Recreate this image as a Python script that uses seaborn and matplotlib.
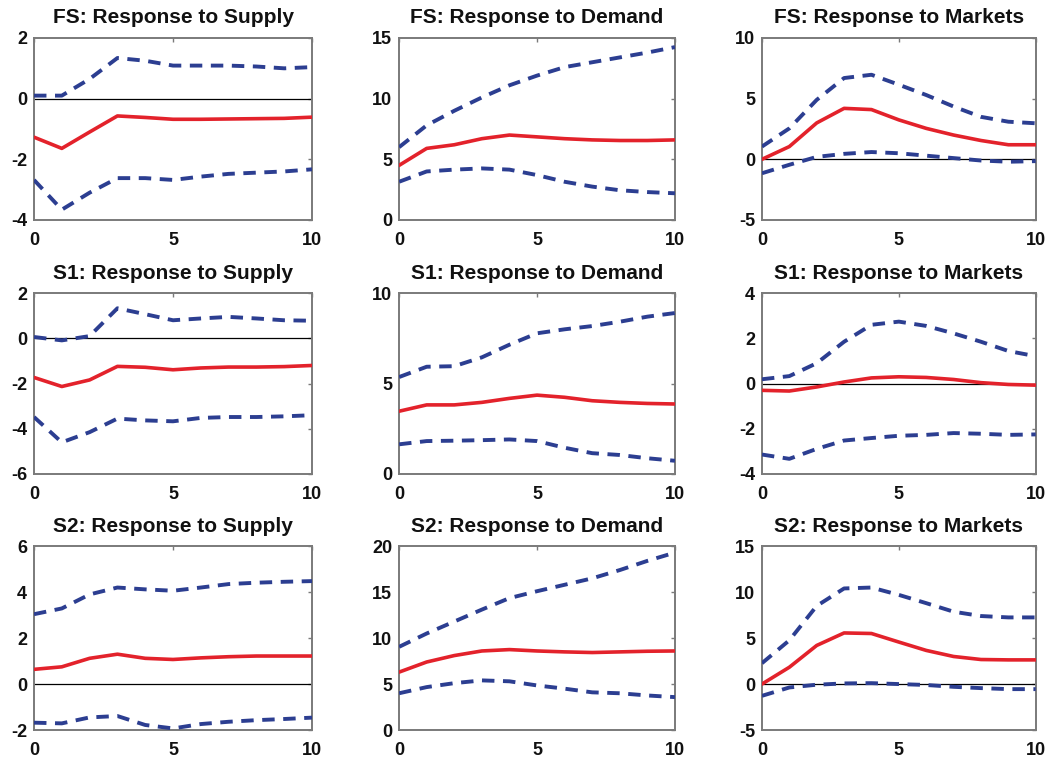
import numpy as np
import pandas as pd
import matplotlib
matplotlib.use("Agg")
import matplotlib.pyplot as plt
import seaborn as sns

sns.set_theme(style="white")
plt.rcParams["font.family"] = ["Liberation Sans", "DejaVu Sans"]
plt.rcParams["font.weight"] = "bold"
plt.rcParams["axes.unicode_minus"] = False

horizon = list(range(11))

sectors = ["FS", "S1", "S2"]
shocks = ["Supply", "Demand", "Markets"]

# Median impulse responses and error bands, one list per (sector, shock)
fs_supply_mid = [-1.27, -1.64, -1.10, -0.57, -0.62, -0.68, -0.68, -0.67, -0.66, -0.65, -0.61]
fs_supply_hi = [0.10, 0.10, 0.65, 1.34, 1.25, 1.09, 1.09, 1.09, 1.06, 1.00, 1.04]
fs_supply_lo = [-2.68, -3.66, -3.10, -2.62, -2.62, -2.68, -2.57, -2.48, -2.44, -2.40, -2.33]

fs_demand_mid = [4.5, 5.9, 6.2, 6.7, 7.0, 6.85, 6.7, 6.6, 6.55, 6.55, 6.6]
fs_demand_hi = [6.0, 7.8, 9.0, 10.1, 11.1, 11.9, 12.6, 13.0, 13.4, 13.8, 14.25]
fs_demand_lo = [3.15, 4.0, 4.15, 4.25, 4.15, 3.7, 3.15, 2.75, 2.45, 2.3, 2.2]

fs_markets_mid = [0.0, 1.05, 3.0, 4.2, 4.1, 3.25, 2.55, 2.0, 1.55, 1.2, 1.2]
fs_markets_hi = [1.05, 2.55, 4.9, 6.7, 6.97, 6.15, 5.3, 4.35, 3.5, 3.1, 2.97]
fs_markets_lo = [-1.15, -0.45, 0.2, 0.45, 0.6, 0.5, 0.3, 0.1, -0.1, -0.2, -0.15]

s1_supply_mid = [-1.73, -2.13, -1.84, -1.24, -1.28, -1.39, -1.31, -1.27, -1.27, -1.25, -1.20]
s1_supply_hi = [0.06, -0.09, 0.10, 1.33, 1.07, 0.80, 0.88, 0.95, 0.88, 0.80, 0.78]
s1_supply_lo = [-3.48, -4.60, -4.15, -3.55, -3.63, -3.67, -3.52, -3.48, -3.48, -3.45, -3.40]

s1_demand_mid = [3.47, 3.82, 3.82, 3.96, 4.18, 4.36, 4.24, 4.05, 3.96, 3.90, 3.87]
s1_demand_hi = [5.36, 5.93, 5.96, 6.45, 7.15, 7.78, 8.0, 8.18, 8.42, 8.7, 8.9]
s1_demand_lo = [1.64, 1.82, 1.84, 1.87, 1.91, 1.82, 1.45, 1.15, 1.05, 0.87, 0.73]

s1_markets_mid = [-0.30, -0.33, -0.15, 0.07, 0.25, 0.30, 0.27, 0.18, 0.04, -0.04, -0.07]
s1_markets_hi = [0.19, 0.33, 0.90, 1.85, 2.60, 2.74, 2.55, 2.22, 1.85, 1.44, 1.21]
s1_markets_lo = [-3.14, -3.33, -2.89, -2.52, -2.41, -2.31, -2.27, -2.19, -2.22, -2.27, -2.25]

s2_supply_mid = [0.64, 0.75, 1.12, 1.30, 1.12, 1.07, 1.14, 1.19, 1.22, 1.22, 1.22]
s2_supply_hi = [3.04, 3.29, 3.90, 4.20, 4.12, 4.06, 4.20, 4.35, 4.41, 4.45, 4.48]
s2_supply_lo = [-1.68, -1.71, -1.45, -1.39, -1.78, -1.93, -1.74, -1.64, -1.57, -1.52, -1.46]

s2_demand_mid = [6.3, 7.4, 8.1, 8.6, 8.75, 8.6, 8.5, 8.43, 8.5, 8.57, 8.6]
s2_demand_hi = [9.05, 10.5, 11.8, 13.1, 14.35, 15.1, 15.8, 16.5, 17.4, 18.4, 19.3]
s2_demand_lo = [4.0, 4.67, 5.1, 5.4, 5.3, 4.85, 4.5, 4.1, 4.0, 3.76, 3.58]

s2_markets_mid = [0.0, 1.83, 4.2, 5.56, 5.5, 4.57, 3.66, 3.0, 2.67, 2.63, 2.63]
s2_markets_hi = [2.27, 4.76, 8.5, 10.4, 10.5, 9.7, 8.8, 7.87, 7.4, 7.25, 7.25]
s2_markets_lo = [-1.28, -0.37, -0.07, 0.07, 0.1, 0.0, -0.1, -0.3, -0.44, -0.55, -0.55]

y_limits = {
    ("FS", "Supply"): (-4, 2), ("FS", "Demand"): (0, 15), ("FS", "Markets"): (-5, 10),
    ("S1", "Supply"): (-6, 2), ("S1", "Demand"): (0, 10), ("S1", "Markets"): (-4, 4),
    ("S2", "Supply"): (-2, 6), ("S2", "Demand"): (0, 20), ("S2", "Markets"): (-5, 15),
}
y_steps = {
    ("FS", "Supply"): 2, ("FS", "Demand"): 5, ("FS", "Markets"): 5,
    ("S1", "Supply"): 2, ("S1", "Demand"): 5, ("S1", "Markets"): 2,
    ("S2", "Supply"): 2, ("S2", "Demand"): 5, ("S2", "Markets"): 5,
}

series = {
    ("FS", "Supply"): (fs_supply_mid, fs_supply_hi, fs_supply_lo),
    ("FS", "Demand"): (fs_demand_mid, fs_demand_hi, fs_demand_lo),
    ("FS", "Markets"): (fs_markets_mid, fs_markets_hi, fs_markets_lo),
    ("S1", "Supply"): (s1_supply_mid, s1_supply_hi, s1_supply_lo),
    ("S1", "Demand"): (s1_demand_mid, s1_demand_hi, s1_demand_lo),
    ("S1", "Markets"): (s1_markets_mid, s1_markets_hi, s1_markets_lo),
    ("S2", "Supply"): (s2_supply_mid, s2_supply_hi, s2_supply_lo),
    ("S2", "Demand"): (s2_demand_mid, s2_demand_hi, s2_demand_lo),
    ("S2", "Markets"): (s2_markets_mid, s2_markets_hi, s2_markets_lo),
}

red = "#e3222b"
blue = "#2c3e91"
frame = "#7a7a7a"

fig = plt.figure(figsize=(10.53, 7.63), dpi=100)

col_left = [0.0323, 0.379, 0.7236]
col_width = [0.264, 0.262, 0.260]
row_bottom = [0.7117, 0.3788, 0.0432]
row_height = [0.2385, 0.237, 0.241]

for r, sector in enumerate(sectors):
    for c, shock in enumerate(shocks):
        ax = fig.add_axes([col_left[c], row_bottom[r], col_width[c], row_height[r]])
        mid, hi, lo = series[(sector, shock)]
        df = pd.DataFrame({"h": horizon, "mid": mid, "hi": hi, "lo": lo})
        ax.axhline(0, color="black", lw=0.9, zorder=1)
        sns.lineplot(data=df, x="h", y="hi", ax=ax, color=blue, lw=2.8,
                     linestyle=(0, (3.2, 2.2)), zorder=3)
        sns.lineplot(data=df, x="h", y="lo", ax=ax, color=blue, lw=2.8,
                     linestyle=(0, (3.2, 2.2)), zorder=3)
        sns.lineplot(data=df, x="h", y="mid", ax=ax, color=red, lw=2.6, zorder=4)

        lo_lim, hi_lim = y_limits[(sector, shock)]
        step = y_steps[(sector, shock)]
        ax.set_xlim(0, 10)
        ax.set_ylim(lo_lim, hi_lim)
        ax.set_xticks([0, 5, 10])
        ax.set_yticks(np.arange(lo_lim, hi_lim + 0.01, step))
        ax.set_xlabel("")
        ax.set_ylabel("")
        ax.tick_params(direction="in", length=3, width=1, color=frame,
                       labelsize=13, top=True, right=True,
                       labelcolor="#111111")
        ax.tick_params(axis="x", pad=8.5)
        ax.tick_params(axis="y", pad=5)
        for lab in ax.get_xticklabels() + ax.get_yticklabels():
            lab.set_fontweight("bold")
        for sp in ax.spines.values():
            sp.set_color(frame)
            sp.set_linewidth(1.4)
        ax.set_title(f"{sector}: Response to {shock}", fontsize=15,
                     fontweight="bold", color="#111111", pad=10.5)

fig.savefig("out.png", dpi=100)
